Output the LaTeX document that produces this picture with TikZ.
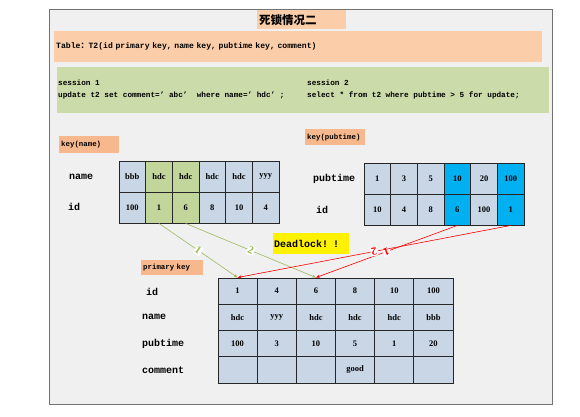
\documentclass[tikz,border=0pt]{standalone}
\usepackage{fontspec}
\setmainfont{Liberation Serif}
\setmonofont{Liberation Mono}
\newfontfamily\cjk{Noto Sans CJK SC}
\usetikzlibrary{arrows.meta,positioning}

\definecolor{peach}{HTML}{FBCDA8}
\definecolor{tagorange}{HTML}{F6B88C}
\definecolor{sessgreen}{HTML}{CCDBAA}
\definecolor{cellblue}{HTML}{C8D6E5}
\definecolor{cellgreen}{HTML}{C2D59A}
\definecolor{cellcyan}{HTML}{00B0F0}
\definecolor{framegray}{HTML}{F0F0F0}
\definecolor{lockgreen}{HTML}{9BBB59}

\begin{document}
\begin{tikzpicture}[x=1pt, y=-1pt,
    cell/.style={draw=black!85, line width=0.9pt, fill=cellblue, minimum width=26.67pt, minimum height=31pt, inner sep=0pt, font=\bfseries\fontsize{8.5}{10}\selectfont},
    pcell/.style={cell, minimum width=39.17pt, minimum height=26.25pt},
    tag/.style={fill=tagorange, anchor=north west, inner sep=2pt, align=left, font=\ttfamily\bfseries\fontsize{7.4}{9}\selectfont},
    rowname/.style={anchor=west, inner sep=0pt, font=\ttfamily\bfseries\fontsize{10}{12}\selectfont},
    sql/.style={anchor=west, inner sep=0pt, align=left, font=\ttfamily\bfseries\fontsize{7.7}{12}\selectfont},
    lockline/.style={-{Stealth[length=4pt,width=3pt]}, line width=0.6pt},
    num/.style={fill=white, inner sep=0.8pt, font=\bfseries\fontsize{11}{12}\selectfont}]
    \useasboundingbox (0,0) rectangle (580,416);
    \draw[draw=black!55, fill=framegray, line width=0.8pt] (49,9) rectangle (552,404);

    % header
    \node[fill=peach, anchor=north west, text width=85pt, minimum height=19pt, inner sep=2pt, align=left, font=\cjk\bfseries\fontsize{11.5}{13}\selectfont] (title) at (257,10) {死锁情况二};
    \node[fill=peach, anchor=north west, text width=484pt, minimum height=31pt, inner sep=2pt, align=left, font=\ttfamily\bfseries\fontsize{8.1}{9}\selectfont] (schema) at (54,31) {Table{\cjk ：}T2(id primary key, name key, pubtime key, comment)};
    \node[fill=sessgreen, anchor=north west, minimum width=492pt, minimum height=46pt, inner sep=0pt] (sessions) at (57,67) {};
    \node[sql] (s1) at (58,90) {session 1\\update t2 set comment=’ abc’ \ where name=’ hdc’ ;};
    \node[sql] (s2) at (307,90) {session 2\\select * from t2 where pubtime > 5 for update;};

    % key(name)
    \node[tag, text width=56pt, minimum height=17pt] (tagname) at (59,136) {key(name)};
    \node[rowname] (kn-name) at (69,177) {name};
    \node[rowname] (kn-id) at (68,207) {id};
    \foreach \v/\c [count=\i] in {bbb/cellblue, hdc/cellgreen, hdc/cellgreen, hdc/cellblue, hdc/cellblue, yyy/cellblue}
        \node[cell, fill=\c] (kn-1-\i) at ({119+26.67*(\i-0.5)},176.5) {\v};
    \foreach \v/\c [count=\i] in {100/cellblue, 1/cellgreen, 6/cellgreen, 8/cellblue, 10/cellblue, 4/cellblue}
        \node[cell, fill=\c] (kn-2-\i) at ({119+26.67*(\i-0.5)},207.5) {\v};

    % key(pubtime)
    \node[tag, text width=56pt, minimum height=16pt] (tagpub) at (305,129) {key(pubtime)};
    \node[rowname] (pt-pubtime) at (313,179) {pubtime};
    \node[rowname] (pt-id) at (316,210) {id};
    \foreach \v/\c [count=\i] in {1/cellblue, 3/cellblue, 5/cellblue, 10/cellcyan, 20/cellblue, 100/cellcyan}
        \node[cell, fill=\c] (pt-1-\i) at ({364+26.67*(\i-0.5)},178.5) {\v};
    \foreach \v/\c [count=\i] in {10/cellblue, 4/cellblue, 8/cellblue, 6/cellcyan, 100/cellblue, 1/cellcyan}
        \node[cell, fill=\c] (pt-2-\i) at ({364+26.67*(\i-0.5)},209.5) {\v};

    \node[fill=yellow, anchor=north west, text width=74pt, minimum height=21pt, inner sep=1pt, align=left, font=\ttfamily\bfseries\fontsize{10}{12}\selectfont] (deadlock) at (273,233) {Deadlock! !};

    % primary key
    \node[tag, text width=58pt, minimum height=15pt] (tagpk) at (141,260) {primary key};
    \node[rowname] (pk-id) at (146,292) {id};
    \node[rowname] (pk-name) at (142,317) {name};
    \node[rowname] (pk-pubtime) at (142,344) {pubtime};
    \node[rowname] (pk-comment) at (142,370) {comment};
    \foreach \v [count=\i] in {1,4,6,8,10,100}
        \node[pcell] (pk-1-\i) at ({218+39.17*(\i-0.5)},291.1) {\v};
    \foreach \v [count=\i] in {hdc,yyy,hdc,hdc,hdc,bbb}
        \node[pcell] (pk-2-\i) at ({218+39.17*(\i-0.5)},317.4) {\v};
    \foreach \v [count=\i] in {100,3,10,5,1,20}
        \node[pcell] (pk-3-\i) at ({218+39.17*(\i-0.5)},343.6) {\v};
    \foreach \v [count=\i] in {{},{},{},good,{},{}}
        \node[pcell] (pk-4-\i) at ({218+39.17*(\i-0.5)},369.9) {\v};

    % lock order
    \draw[lockline, lockgreen] (kn-2-2.south) -- node[num, text=lockgreen, sloped] {1} (pk-1-1.north);
    \draw[lockline, lockgreen] (kn-2-3.south) -- node[num, text=lockgreen, sloped] {2} (pk-1-3.north);
    \draw[lockline, red] (pt-2-4.south) -- node[num, text=red, sloped, allow upside down] {1} (pk-1-3.north);
    \draw[lockline, red] (pt-2-6.south) -- node[num, text=red, sloped, allow upside down] {2} (pk-1-1.north);
\end{tikzpicture}
\end{document}
